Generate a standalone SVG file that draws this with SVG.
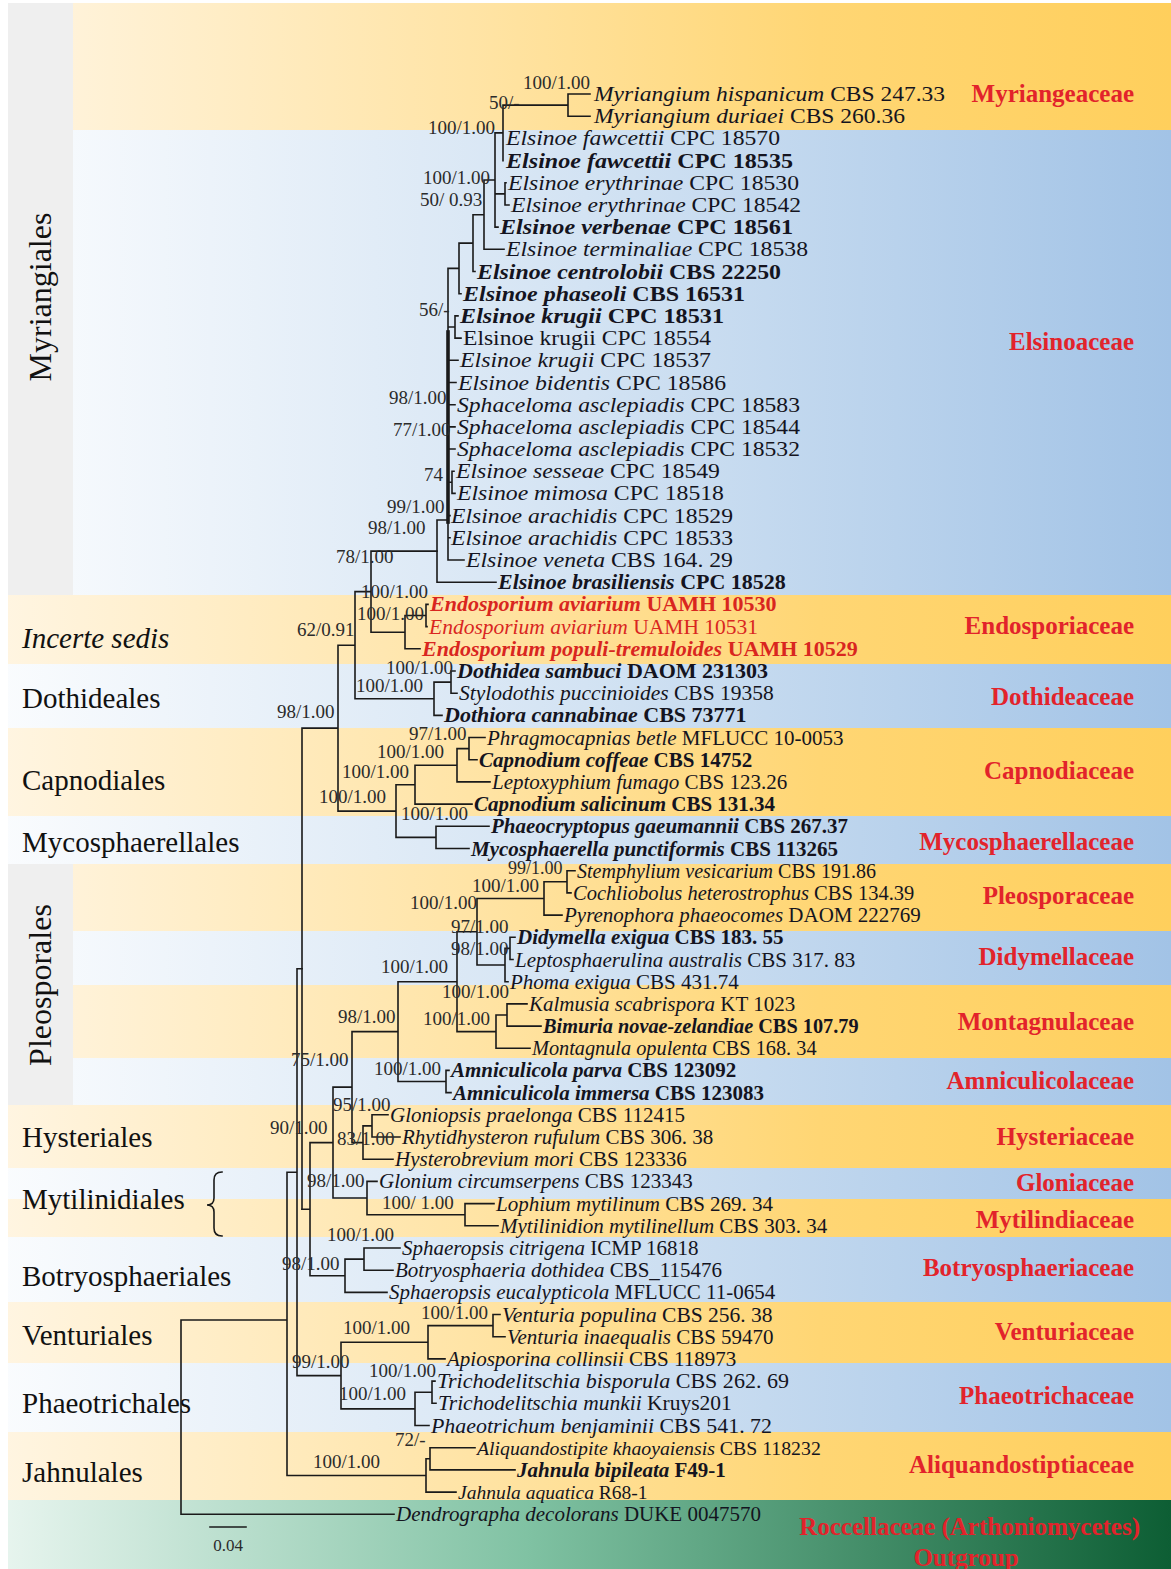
<svg xmlns="http://www.w3.org/2000/svg" width="1171" height="1569" viewBox="0 0 1171 1569">
<defs>
<linearGradient id="gO" gradientUnits="userSpaceOnUse" x1="0" y1="0" x2="1171" y2="0">
<stop offset="0" stop-color="#FFF5E2"/><stop offset="0.4" stop-color="#FFE4A6"/><stop offset="0.7" stop-color="#FFD674"/><stop offset="1" stop-color="#FFCF5C"/>
</linearGradient>
<linearGradient id="gB" gradientUnits="userSpaceOnUse" x1="0" y1="0" x2="1171" y2="0">
<stop offset="0" stop-color="#FAFCFE"/><stop offset="0.5" stop-color="#D3E3F3"/><stop offset="1" stop-color="#A2C3E6"/>
</linearGradient>
<linearGradient id="gG" gradientUnits="userSpaceOnUse" x1="0" y1="0" x2="1171" y2="0">
<stop offset="0" stop-color="#E8F5EF"/><stop offset="0.45" stop-color="#80C2A3"/><stop offset="1" stop-color="#0D5E34"/>
</linearGradient>
<style>
.o{fill:url(#gO)} .bl{fill:url(#gB)} .gr{fill:url(#gG)} .pn{fill:#EFEFEF}
.t{font-family:"Liberation Serif","Times New Roman",serif;font-size:22px;fill:#141420}
.t2{font-size:21px}
.i{font-style:italic} .b{font-weight:bold}
.red{fill:#D9261F}
.s{font-family:"Liberation Serif","Times New Roman",serif;font-size:19px;fill:#2b2b2b}
.fam{font-family:"Liberation Serif","Times New Roman",serif;font-size:25px;font-weight:bold;fill:#E2232B;text-anchor:end}
.ord{font-family:"Liberation Serif","Times New Roman",serif;font-size:29px;fill:#111}
.ln{fill:none;stroke:#1a1a1a;stroke-width:1.6;stroke-linecap:square}
</style>
</defs>
<rect width="1171" height="1569" fill="#FFFFFF"/>
<g id="bands">
<rect class="pn" x="8" y="3" width="65" height="592"/>
<rect class="o" x="73" y="3" width="1098" height="127"/>
<rect class="bl" x="73" y="130" width="1098" height="465"/>
<rect class="o" x="8" y="595" width="1163" height="69"/>
<rect class="bl" x="8" y="664" width="1163" height="64"/>
<rect class="o" x="8" y="728" width="1163" height="88"/>
<rect class="bl" x="8" y="816" width="1163" height="48"/>
<rect class="pn" x="8" y="864" width="65" height="241"/>
<rect class="o" x="73" y="864" width="1098" height="67"/>
<rect class="bl" x="73" y="931" width="1098" height="54"/>
<rect class="o" x="73" y="985" width="1098" height="73"/>
<rect class="bl" x="73" y="1058" width="1098" height="47"/>
<rect class="o" x="8" y="1105" width="1163" height="63"/>
<rect class="bl" x="8" y="1168" width="1163" height="31"/>
<rect class="o" x="8" y="1199" width="1163" height="38"/>
<rect class="bl" x="8" y="1237" width="1163" height="65"/>
<rect class="o" x="8" y="1302" width="1163" height="61"/>
<rect class="bl" x="8" y="1363" width="1163" height="69"/>
<rect class="o" x="8" y="1432" width="1163" height="68"/>
<rect class="gr" x="8" y="1500" width="1163" height="69"/>
</g>
<g id="orders">
<g id="ord-myriangiales"><text class="ord" transform="translate(51,297) rotate(-90)" text-anchor="middle" style="font-size:32px">Myriangiales</text></g>
<g id="ord-incerte"><text class="ord i" x="22" y="648">Incerte sedis</text></g>
<g id="ord-dothideales"><text class="ord" x="22" y="708">Dothideales</text></g>
<g id="ord-capnodiales"><text class="ord" x="22" y="790">Capnodiales</text></g>
<g id="ord-mycosphaerellales"><text class="ord" x="22" y="852">Mycosphaerellales</text></g>
<g id="ord-pleosporales"><text class="ord" transform="translate(51,985) rotate(-90)" text-anchor="middle" style="font-size:32px">Pleosporales</text></g>
<g id="ord-hysteriales"><text class="ord" x="22" y="1147">Hysteriales</text></g>
<g id="ord-mytilinidiales"><text class="ord" x="22" y="1209">Mytilinidiales</text><path class="ln" d="M222 1172Q214 1172 214 1180V1198Q214 1205 207 1205Q214 1205 214 1212V1228Q214 1236 222 1236"/></g>
<g id="ord-botryosphaeriales"><text class="ord" x="22" y="1286">Botryosphaeriales</text></g>
<g id="ord-venturiales"><text class="ord" x="22" y="1345">Venturiales</text></g>
<g id="ord-phaeotrichales"><text class="ord" x="22" y="1413">Phaeotrichales</text></g>
<g id="ord-jahnulales"><text class="ord" x="22" y="1482">Jahnulales</text></g>
</g>
<g id="families">
<g id="fam-myriangeaceae"><text class="fam" x="1134" y="102">Myriangeaceae</text></g>
<g id="fam-elsinoaceae"><text class="fam" x="1134" y="350">Elsinoaceae</text></g>
<g id="fam-endosporiaceae"><text class="fam" x="1134" y="634">Endosporiaceae</text></g>
<g id="fam-dothideaceae"><text class="fam" x="1134" y="705">Dothideaceae</text></g>
<g id="fam-capnodiaceae"><text class="fam" x="1134" y="779">Capnodiaceae</text></g>
<g id="fam-mycosphaerellaceae"><text class="fam" x="1134" y="850">Mycosphaerellaceae</text></g>
<g id="fam-pleosporaceae"><text class="fam" x="1134" y="904">Pleosporaceae</text></g>
<g id="fam-didymellaceae"><text class="fam" x="1134" y="965">Didymellaceae</text></g>
<g id="fam-montagnulaceae"><text class="fam" x="1134" y="1030">Montagnulaceae</text></g>
<g id="fam-amniculicolaceae"><text class="fam" x="1134" y="1089">Amniculicolaceae</text></g>
<g id="fam-hysteriaceae"><text class="fam" x="1134" y="1145">Hysteriaceae</text></g>
<g id="fam-gloniaceae"><text class="fam" x="1134" y="1191">Gloniaceae</text></g>
<g id="fam-mytilindiaceae"><text class="fam" x="1134" y="1228">Mytilindiaceae</text></g>
<g id="fam-botryosphaeriaceae"><text class="fam" x="1134" y="1276">Botryosphaeriaceae</text></g>
<g id="fam-venturiaceae"><text class="fam" x="1134" y="1340">Venturiaceae</text></g>
<g id="fam-phaeotrichaceae"><text class="fam" x="1134" y="1404">Phaeotrichaceae</text></g>
<g id="fam-aliquandostiptiaceae"><text class="fam" x="1134" y="1473">Aliquandostiptiaceae</text></g>
<g id="fam-roccellaceae"><text class="fam" x="1140" y="1535">Roccellaceae (Arthoniomycetes)</text><text class="fam" x="966" y="1566" style="text-anchor:middle">Outgroup</text></g>
</g>
<g id="connectors">
<path class="ln" d="M568 94V116.2M568 94H590M568 116.2H590M503 105.1H568M503 105.1V160.6M505 182.8V205M505 182.8H506M505 205H509M495 132.9V227.1M495 132.9H503M495 193.9H505M495 227.1H498M484 180V249.3M484 180H495M484 249.3H504M473 214.7V271.5M473 214.7H484M473 271.5H475M459 243.1V293.7M459 243.1H473M459 293.7H461M448 268.4V560M448 268.4H459M455 315.9V338.1M448 327H455M455 315.9H458M455 338.1H461M448 360.3H458M448 382.5H456M448 404.7H455M448 426.9H455M448 449H455M452 471.2V493.4M448 482.3H452M452 471.2H454M452 493.4H455M448 515.6H450M448 537.8H450M448 560H464M437 520H448M437 520V582.2M437 582.2H496"/>
<path class="ln" style="stroke-width:3.6" d="M448 332V522"/>
<path class="ln" d="M371 551.1H437M371 551.1V632.2M426 604.4V626.6M426 604.4H428M426 626.6H427M405 615.5H426M405 615.5V648.8M405 648.8H420M371 632.2H405M451 671V693.2M451 671H455M451 693.2H457M434 682.1H451M434 682.1V715.4M434 715.4H442M355 591.6H371M355 591.6V698.8M355 698.8H434M469 737.5V759.7M469 737.5H485M469 759.7H477M457 748.6H469M457 748.6V781.9M457 781.9H490M415 765.2H457M415 765.2V804.1M415 804.1H472M436 826.3V848.5M436 826.3H489M436 848.5H469M396 784.7H415M396 784.7V837.4M396 837.4H436M338 645.2H355M338 645.2V811.1M338 811.1H396M302 728.1H338M302 728.1V1209.2"/>
<path class="ln" d="M567 870.7V892.9M567 870.7H575M567 892.9H571M544 881.8H567M544 881.8V915.1M544 915.1H562M510 937.3V959.5M510 937.3H515M510 959.5H513M505 948.4H510M505 948.4V981.7M505 981.7H508M477 898.5H544M477 898.5V965M477 965H505M507 1003.9V1026.1M507 1003.9H527M507 1026.1H541M496 1015H507M496 1015V1048.2M496 1048.2H530M457 931.8H477M457 931.8V1031.6M457 1031.6H496M446 1070.4V1092.6M446 1070.4H449M446 1092.6H451M398 981.7H457M398 981.7V1081.5M398 1081.5H446M372 1114.8V1137M372 1114.8H388M372 1137H400M363 1125.9H372M363 1125.9V1159.2M363 1159.2H393M352 1031.6H398M352 1031.6V1142.6M352 1142.6H363M465 1203.6V1225.8M465 1203.6H494M465 1225.8H498M367 1181.4V1214.7M367 1181.4H377M367 1214.7H465M333 1087.1H352M333 1087.1V1198M333 1198H367M364 1248V1270.2M364 1248H400M364 1270.2H393M345 1259.1H364M345 1259.1V1292.4M345 1292.4H387M310 1142.6H333M310 1142.6V1275.8M310 1275.8H345M302 1209.2H310"/>
<path class="ln" d="M493 1314.5V1336.7M493 1314.5H500M493 1336.7H505M428 1325.6H493M428 1325.6V1358.9M428 1358.9H445M432 1381.1V1403.3M432 1381.1H435M432 1403.3H436M415 1392.2H432M415 1392.2V1425.5M415 1425.5H429M341 1342.3H428M341 1342.3V1408.9M341 1408.9H415M297 968.7H302M297 968.7V1375.6M297 1375.6H341M430 1447.7V1469.9M430 1447.7H475M430 1469.9H515M426 1458.8H430M426 1458.8V1492.1M426 1492.1H456M287 1172.2H297M287 1172.2V1475.5M287 1475.5H426M181 1320H287M181 1320V1514.3M181 1514.3H394"/>
</g>
<g id="supports">
<text class="s" x="523" y="89">100/1.00</text>
<text class="s" x="489" y="109">50/-</text>
<text class="s" x="428" y="134">100/1.00</text>
<text class="s" x="423" y="184">100/1.00</text>
<text class="s" x="420" y="206">50/ 0.93</text>
<text class="s" x="419" y="316">56/-</text>
<text class="s" x="389" y="404">98/1.00</text>
<text class="s" x="393" y="436">77/1.00</text>
<text class="s" x="424" y="481">74</text>
<text class="s" x="387" y="513">99/1.00</text>
<text class="s" x="368" y="534">98/1.00</text>
<text class="s" x="336" y="563">78/1.00</text>
<text class="s" x="361" y="598">100/1.00</text>
<text class="s" x="357" y="620">100/1.00</text>
<text class="s" x="297" y="636">62/0.91</text>
<text class="s" x="386" y="674">100/1.00</text>
<text class="s" x="356" y="692">100/1.00</text>
<text class="s" x="277" y="718">98/1.00</text>
<text class="s" x="409" y="740">97/1.00</text>
<text class="s" x="377" y="758">100/1.00</text>
<text class="s" x="342" y="778">100/1.00</text>
<text class="s" x="319" y="803">100/1.00</text>
<text class="s" x="401" y="820">100/1.00</text>
<text class="s" x="508" y="874" style="font-size:18px">99/1.00</text>
<text class="s" x="472" y="892">100/1.00</text>
<text class="s" x="410" y="909">100/1.00</text>
<text class="s" x="451" y="933">97/1.00</text>
<text class="s" x="451" y="955">98/1.00</text>
<text class="s" x="381" y="973">100/1.00</text>
<text class="s" x="442" y="998">100/1.00</text>
<text class="s" x="338" y="1023">98/1.00</text>
<text class="s" x="423" y="1025">100/1.00</text>
<text class="s" x="291" y="1066">75/1.00</text>
<text class="s" x="374" y="1075">100/1.00</text>
<text class="s" x="333" y="1111">95/1.00</text>
<text class="s" x="270" y="1134">90/1.00</text>
<text class="s" x="337" y="1145">83/1.00</text>
<text class="s" x="307" y="1187">98/1.00</text>
<text class="s" x="382" y="1209">100/ 1.00</text>
<text class="s" x="327" y="1241">100/1.00</text>
<text class="s" x="282" y="1270">98/1.00</text>
<text class="s" x="421" y="1319">100/1.00</text>
<text class="s" x="343" y="1334">100/1.00</text>
<text class="s" x="292" y="1368">99/1.00</text>
<text class="s" x="369" y="1377">100/1.00</text>
<text class="s" x="339" y="1400">100/1.00</text>
<text class="s" x="395" y="1446">72/-</text>
<text class="s" x="313" y="1468">100/1.00</text>
</g>
<g id="taxa">
<g id="tx01"><text class="t" x="594" y="101" textLength="351" lengthAdjust="spacingAndGlyphs"><tspan class="i">Myriangium hispanicum</tspan> CBS 247.33</text></g>
<g id="tx02"><text class="t" x="594" y="123.2" textLength="311" lengthAdjust="spacingAndGlyphs"><tspan class="i">Myriangium duriaei</tspan> CBS 260.36</text></g>
<g id="tx03"><text class="t" x="506" y="145.4" textLength="274" lengthAdjust="spacingAndGlyphs"><tspan class="i">Elsinoe fawcettii</tspan> CPC 18570</text></g>
<g id="tx04"><text class="t b" x="506" y="167.6" textLength="287" lengthAdjust="spacingAndGlyphs"><tspan class="i">Elsinoe fawcettii</tspan> CPC 18535</text></g>
<g id="tx05"><text class="t" x="508" y="189.8" textLength="291" lengthAdjust="spacingAndGlyphs"><tspan class="i">Elsinoe erythrinae</tspan> CPC 18530</text></g>
<g id="tx06"><text class="t" x="511" y="212" textLength="290" lengthAdjust="spacingAndGlyphs"><tspan class="i">Elsinoe erythrinae</tspan> CPC 18542</text></g>
<g id="tx07"><text class="t b" x="500" y="234.1" textLength="293" lengthAdjust="spacingAndGlyphs"><tspan class="i">Elsinoe verbenae</tspan> CPC 18561</text></g>
<g id="tx08"><text class="t" x="506" y="256.3" textLength="302" lengthAdjust="spacingAndGlyphs"><tspan class="i">Elsinoe terminaliae</tspan> CPC 18538</text></g>
<g id="tx09"><text class="t b" x="477" y="278.5" textLength="304" lengthAdjust="spacingAndGlyphs"><tspan class="i">Elsinoe centrolobii</tspan> CBS 22250</text></g>
<g id="tx10"><text class="t b" x="463" y="300.7" textLength="282" lengthAdjust="spacingAndGlyphs"><tspan class="i">Elsinoe phaseoli</tspan> CBS 16531</text></g>
<g id="tx11"><text class="t b" x="460" y="322.9" textLength="264" lengthAdjust="spacingAndGlyphs"><tspan class="i">Elsinoe krugii</tspan> CPC 18531</text></g>
<g id="tx12"><text class="t" x="463" y="345.1" textLength="248" lengthAdjust="spacingAndGlyphs">Elsinoe krugii  CPC 18554</text></g>
<g id="tx13"><text class="t" x="460" y="367.3" textLength="251" lengthAdjust="spacingAndGlyphs"><tspan class="i">Elsinoe krugii</tspan> CPC 18537</text></g>
<g id="tx14"><text class="t" x="458" y="389.5" textLength="268" lengthAdjust="spacingAndGlyphs"><tspan class="i">Elsinoe bidentis</tspan> CPC 18586</text></g>
<g id="tx15"><text class="t" x="457" y="411.7" textLength="343" lengthAdjust="spacingAndGlyphs"><tspan class="i">Sphaceloma asclepiadis</tspan> CPC 18583</text></g>
<g id="tx16"><text class="t" x="457" y="433.9" textLength="343" lengthAdjust="spacingAndGlyphs"><tspan class="i">Sphaceloma asclepiadis</tspan> CPC 18544</text></g>
<g id="tx17"><text class="t" x="457" y="456" textLength="343" lengthAdjust="spacingAndGlyphs"><tspan class="i">Sphaceloma asclepiadis</tspan> CPC 18532</text></g>
<g id="tx18"><text class="t" x="456" y="478.2" textLength="264" lengthAdjust="spacingAndGlyphs"><tspan class="i">Elsinoe sesseae</tspan> CPC 18549</text></g>
<g id="tx19"><text class="t" x="457" y="500.4" textLength="267" lengthAdjust="spacingAndGlyphs"><tspan class="i">Elsinoe mimosa</tspan> CPC 18518</text></g>
<g id="tx20"><text class="t" x="451" y="522.6" textLength="282" lengthAdjust="spacingAndGlyphs"><tspan class="i">Elsinoe arachidis</tspan> CPC 18529</text></g>
<g id="tx21"><text class="t" x="451" y="544.8" textLength="282" lengthAdjust="spacingAndGlyphs"><tspan class="i">Elsinoe arachidis</tspan> CPC 18533</text></g>
<g id="tx22"><text class="t" x="466" y="567" textLength="267" lengthAdjust="spacingAndGlyphs"><tspan class="i">Elsinoe veneta</tspan> CBS 164. 29</text></g>
<g id="tx23"><text class="t b" x="498" y="589.2"><tspan class="i">Elsinoe brasiliensis</tspan> CPC 18528</text></g>
<g id="tx24"><text class="t b red" x="430" y="611.4"><tspan class="i">Endosporium aviarium</tspan> UAMH 10530</text></g>
<g id="tx25"><text class="t red" x="429" y="633.6" style="font-size:21.5px"><tspan class="i">Endosporium aviarium</tspan> UAMH 10531</text></g>
<g id="tx26"><text class="t b red" x="422" y="655.8"><tspan class="i">Endosporium populi-tremuloides</tspan> UAMH 10529</text></g>
<g id="tx27"><text class="t b" x="457" y="678"><tspan class="i">Dothidea sambuci</tspan> DAOM 231303</text></g>
<g id="tx28"><text class="t" x="459" y="700.2" style="font-size:21.5px"><tspan class="i">Stylodothis puccinioides</tspan> CBS 19358</text></g>
<g id="tx29"><text class="t b" x="444" y="722.4"><tspan class="i">Dothiora cannabinae</tspan> CBS 73771</text></g>
<g id="tx30"><text class="t t2" x="487" y="744.5"><tspan class="i">Phragmocapnias betle</tspan> MFLUCC 10-0053</text></g>
<g id="tx31"><text class="t t2 b" x="479" y="766.7"><tspan class="i">Capnodium coffeae</tspan> CBS 14752</text></g>
<g id="tx32"><text class="t t2" x="492" y="788.9"><tspan class="i">Leptoxyphium fumago</tspan> CBS 123.26</text></g>
<g id="tx33"><text class="t t2 b" x="474" y="811.1"><tspan class="i">Capnodium salicinum</tspan> CBS 131.34</text></g>
<g id="tx34"><text class="t t2 b" x="491" y="833.3"><tspan class="i">Phaeocryptopus gaeumannii</tspan> CBS 267.37</text></g>
<g id="tx35"><text class="t t2 b" x="471" y="855.5"><tspan class="i">Mycosphaerella punctiformis</tspan> CBS 113265</text></g>
<g id="tx36"><text class="t" x="577" y="877.7" style="font-size:20px"><tspan class="i">Stemphylium vesicarium</tspan> CBS 191.86</text></g>
<g id="tx37"><text class="t" x="573" y="899.9" style="font-size:20.5px"><tspan class="i">Cochliobolus heterostrophus</tspan> CBS 134.39</text></g>
<g id="tx38"><text class="t t2" x="564" y="922.1"><tspan class="i">Pyrenophora phaeocomes</tspan> DAOM 222769</text></g>
<g id="tx39"><text class="t t2 b" x="517" y="944.3"><tspan class="i">Didymella exigua</tspan> CBS 183. 55</text></g>
<g id="tx40"><text class="t t2" x="515" y="966.5"><tspan class="i">Leptosphaerulina australis</tspan> CBS 317. 83</text></g>
<g id="tx41"><text class="t t2" x="510" y="988.7"><tspan class="i">Phoma exigua</tspan> CBS 431.74</text></g>
<g id="tx42"><text class="t t2" x="529" y="1010.9"><tspan class="i">Kalmusia scabrispora</tspan> KT 1023</text></g>
<g id="tx43"><text class="t b" x="543" y="1033.1" style="font-size:20.3px"><tspan class="i">Bimuria novae-zelandiae</tspan> CBS 107.79</text></g>
<g id="tx44"><text class="t" x="532" y="1055.2" style="font-size:20.3px"><tspan class="i">Montagnula opulenta</tspan> CBS 168. 34</text></g>
<g id="tx45"><text class="t t2 b" x="451" y="1077.4"><tspan class="i">Amniculicola parva</tspan> CBS 123092</text></g>
<g id="tx46"><text class="t t2 b" x="453" y="1099.6"><tspan class="i">Amniculicola immersa</tspan> CBS 123083</text></g>
<g id="tx47"><text class="t t2" x="390" y="1121.8"><tspan class="i">Gloniopsis praelonga</tspan> CBS 112415</text></g>
<g id="tx48"><text class="t t2" x="402" y="1144"><tspan class="i">Rhytidhysteron rufulum</tspan> CBS 306. 38</text></g>
<g id="tx49"><text class="t t2" x="395" y="1166.2"><tspan class="i">Hysterobrevium mori</tspan> CBS 123336</text></g>
<g id="tx50"><text class="t t2" x="379" y="1188.4"><tspan class="i">Glonium circumserpens</tspan> CBS 123343</text></g>
<g id="tx51"><text class="t t2" x="496" y="1210.6"><tspan class="i">Lophium mytilinum</tspan> CBS 269. 34</text></g>
<g id="tx52"><text class="t t2" x="500" y="1232.8"><tspan class="i">Mytilinidion mytilinellum</tspan> CBS 303. 34</text></g>
<g id="tx53"><text class="t t2" x="402" y="1255"><tspan class="i">Sphaeropsis citrigena</tspan> ICMP 16818</text></g>
<g id="tx54"><text class="t t2" x="395" y="1277.2"><tspan class="i">Botryosphaeria dothidea</tspan> CBS_115476</text></g>
<g id="tx55"><text class="t t2" x="389" y="1299.4"><tspan class="i">Sphaeropsis eucalypticola</tspan> MFLUCC 11-0654</text></g>
<g id="tx56"><text class="t" x="502" y="1321.5" style="font-size:21.5px"><tspan class="i">Venturia populina</tspan> CBS 256. 38</text></g>
<g id="tx57"><text class="t t2" x="507" y="1343.7"><tspan class="i">Venturia inaequalis</tspan> CBS 59470</text></g>
<g id="tx58"><text class="t t2" x="447" y="1365.9"><tspan class="i">Apiosporina collinsii</tspan> CBS 118973</text></g>
<g id="tx59"><text class="t t2" x="437" y="1388.1" textLength="352" lengthAdjust="spacingAndGlyphs"><tspan class="i">Trichodelitschia bisporula</tspan> CBS 262. 69</text></g>
<g id="tx60"><text class="t" x="438" y="1410.3" style="font-size:21.5px"><tspan class="i">Trichodelitschia munkii</tspan> Kruys201</text></g>
<g id="tx61"><text class="t t2" x="431" y="1432.5" textLength="341" lengthAdjust="spacingAndGlyphs"><tspan class="i">Phaeotrichum benjaminii</tspan> CBS 541. 72</text></g>
<g id="tx62"><text class="t" x="477" y="1454.7" style="font-size:19.8px"><tspan class="i">Aliquandostipite khaoyaiensis</tspan> CBS 118232</text></g>
<g id="tx63"><text class="t t2 b" x="517" y="1476.9"><tspan class="i">Jahnula bipileata</tspan> F49-1</text></g>
<g id="tx64"><text class="t" x="458" y="1499.1" style="font-size:19.5px"><tspan class="i">Jahnula aquatica</tspan> R68-1</text></g>
<g id="tx65"><text class="t t2" x="396" y="1521.3"><tspan class="i">Dendrographa decolorans</tspan> DUKE 0047570</text></g>
</g>
<g id="scalebar">
<path class="ln" d="M210 1527H246"/>
<text class="s" x="228" y="1551" text-anchor="middle" style="font-size:17px">0.04</text>
</g>
</svg>
